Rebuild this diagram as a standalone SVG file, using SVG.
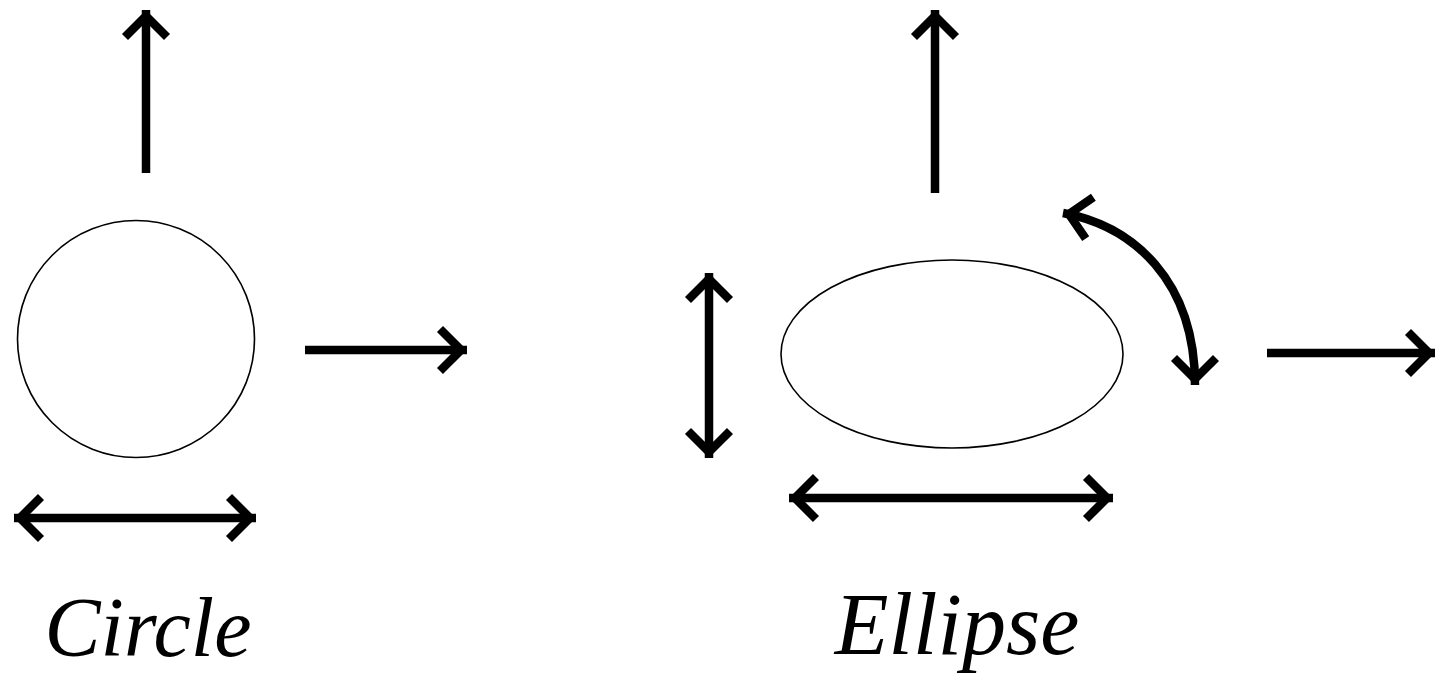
<svg xmlns="http://www.w3.org/2000/svg" width="1436" height="674" viewBox="0 0 1436 674">
  <style>
    .shape { fill: none; stroke: #000; stroke-width: 1.6; }
    .arrow { fill: none; stroke: #000; stroke-width: 8.5; marker-end: url(#head); }
    .both { marker-start: url(#head); }
    .label { font-family: "Liberation Serif", "Times New Roman", serif; font-style: italic; fill: #000; text-anchor: middle; }
  </style>
  <defs>
    <!-- open chevron head, reused at both ends of two-way arrows -->
    <marker id="head" markerUnits="userSpaceOnUse" markerWidth="60" markerHeight="60" viewBox="-40 -30 60 60" refX="0" refY="0" orient="auto-start-reverse" overflow="visible">
      <path d="M-27,-21 L-6,0 L-27,21" fill="none" stroke="#000" stroke-width="8.5" stroke-linejoin="miter" stroke-miterlimit="10"/>
    </marker>
  </defs>

  <rect width="1436" height="674" fill="#fff"/>

  <!-- circle figure -->
  <g id="circle">
    <circle class="shape" cx="136" cy="339" r="118.5"/>
  </g>
  <g id="circle-label">
    <text class="label" x="148" y="656" font-size="84">Circle</text>
  </g>

  <!-- ellipse figure -->
  <g id="ellipse">
    <ellipse class="shape" cx="952" cy="354" rx="171" ry="94"/>
  </g>
  <g id="ellipse-label">
    <text class="label" x="957" y="654" font-size="88">Ellipse</text>
  </g>

  <g id="connectors">
    <!-- circle arrows -->
    <line class="arrow" x1="146" y1="173" x2="146" y2="10"/>
    <line class="arrow" x1="305" y1="350" x2="467" y2="350"/>
    <line class="arrow both" x1="14" y1="518" x2="256" y2="518"/>

    <!-- ellipse arrows -->
    <line class="arrow" x1="935" y1="193" x2="935" y2="10"/>
    <line class="arrow both" x1="709" y1="273" x2="709" y2="458"/>
    <line class="arrow both" x1="789" y1="498" x2="1113" y2="498"/>
    <line class="arrow" x1="1267" y1="353" x2="1435" y2="353"/>
    <path class="arrow both" d="M1063,213 C1133,226 1195,280 1195,385"/>
  </g>
</svg>
